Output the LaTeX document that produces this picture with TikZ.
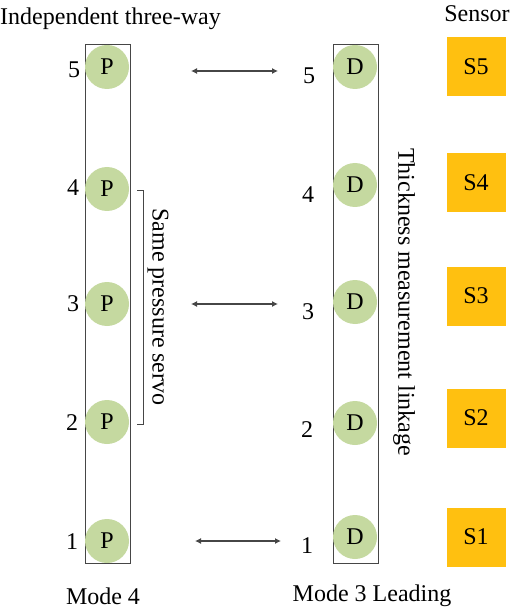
\documentclass[tikz,border=0pt]{standalone}
\usepackage{fontspec}
\setmainfont{Liberation Serif}
\usetikzlibrary{arrows.meta, positioning}
\definecolor{leafgreen}{RGB}{197,217,160}
\definecolor{sensoramber}{RGB}{255,192,16}
\definecolor{framegray}{RGB}{70,70,70}

\begin{document}
\begin{tikzpicture}[x=1pt, y=-1pt,
    every node/.style={font=\fontsize{24}{28}\selectfont, inner sep=0pt},
    bar/.style={draw=framegray, line width=1pt, minimum width=45pt, minimum height=518pt},
    pump/.style={circle, fill=leafgreen, minimum size=44pt},
    sensor/.style={fill=sensoramber, minimum size=59pt},
    link/.style={framegray, line width=1.1pt, {Latex[length=6pt,width=6pt]}-{Latex[length=6pt,width=6pt]}}]

\useasboundingbox (0,0) rectangle (510,612);

% === titles ===
\node[anchor=west] (title) at (0,19) {Independent three-way};
\node (sensortitle) at (477,14) {Sensor};
\node (mode4) at (103,596) {Mode 4};
\node (mode3) at (372,596) {Mode 3 Leading};

% === columns ===
\node[bar] (leftbar) at (107.5,304) {};
\node[bar] (rightbar) at (355.5,304) {};

% === P and D rolls ===
\node[pump] (p5) at (107,67) {P};
\node[pump] (p4) at (107,189) {P};
\node[pump] (p3) at (107,304) {P};
\node[pump] (p2) at (107,422) {P};
\node[pump] (p1) at (107,541) {P};

\node[pump] (d5) at (355,67) {D};
\node[pump] (d4) at (355,185) {D};
\node[pump] (d3) at (355,302) {D};
\node[pump] (d2) at (355,423) {D};
\node[pump] (d1) at (355,537) {D};

% === numbers ===
\node (nl5) at (74,70) {5};
\node (nl4) at (73,188) {4};
\node (nl3) at (73,304) {3};
\node (nl2) at (72,423) {2};
\node (nl1) at (72,542) {1};

\node (nr5) at (309,76) {5};
\node (nr4) at (308,195) {4};
\node (nr3) at (308,312) {3};
\node (nr2) at (307,430) {2};
\node (nr1) at (307,546) {1};

% === sensors ===
\node[sensor] (s5) at (476,67) {S5};
\node[sensor] (s4) at (476,183) {S4};
\node[sensor] (s3) at (476,296) {S3};
\node[sensor] (s2) at (476,418) {S2};
\node[sensor] (s1) at (476,537) {S1};

% === linkage arrows ===
\coordinate (a5l) at (191,71);
\coordinate (a5r) at (278,71);
\coordinate (a3l) at (191,304);
\coordinate (a3r) at (278,304);
\coordinate (a1l) at (195,541);
\coordinate (a1r) at (281,541);
\draw[link] (a5l) -- (a5r);
\draw[link] (a3l) -- (a3r);
\draw[link] (a1l) -- (a1r);

% === servo bracket ===
\coordinate (bt) at (137,191);
\coordinate (bb) at (137,424);
\draw[framegray, line width=1pt] (bt) -- ++(6,0) |- (bb);
\node[rotate=-90] (servo) at (158,307) {Same pressure servo};

\node[rotate=-90] (linkage) at (404,302) {Thickness measurement linkage};

\end{tikzpicture}
\end{document}
